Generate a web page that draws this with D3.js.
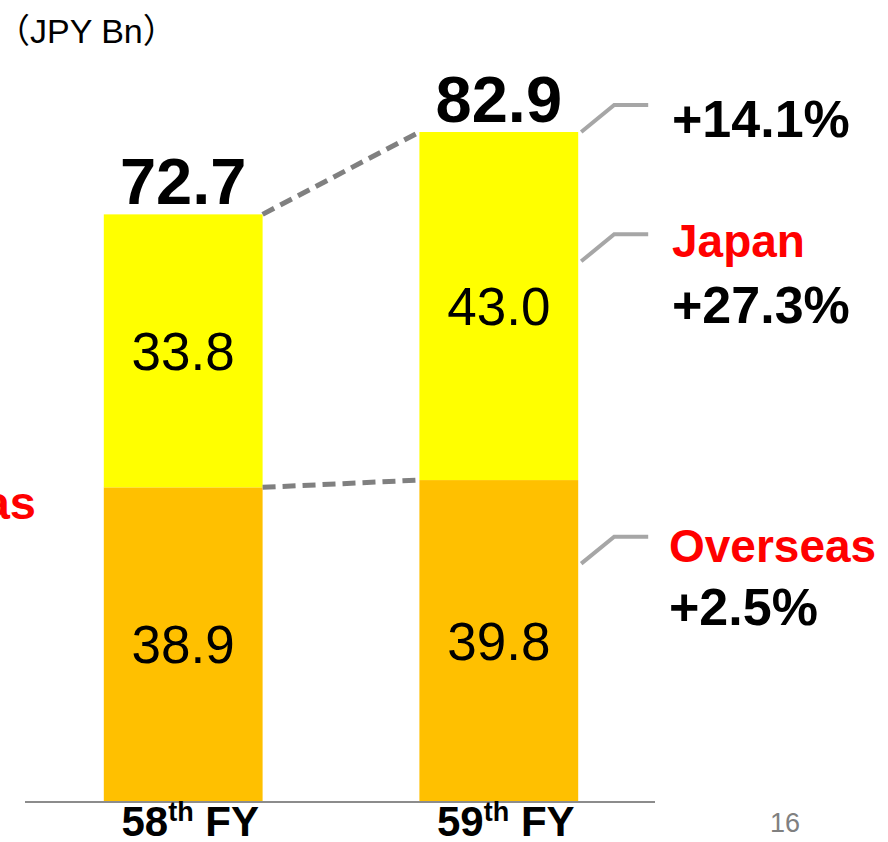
<!DOCTYPE html>
<html>
<head>
<meta charset="utf-8">
<script src="https://cdn.jsdelivr.net/npm/d3@7"></script>
<style>
  html, body { margin: 0; padding: 0; background: #fff; }
  svg { display: block; font-family: "Liberation Sans", Arial, "Noto Sans CJK JP", sans-serif; }
</style>
</head>
<body>
<svg id="chart" width="888" height="842"></svg>
<script>
// ---- data ----
const categories = ["58", "59"];
const overseas = [38.9, 39.8];
const japan = [33.8, 43.0];
const totals = [72.7, 82.9];
const growthLabels = ["+14.1%", "+27.3%", "+2.5%"];
const segmentNames = ["Japan", "Overseas"];
const unitLabel = "（JPY Bn）";
const pageNumber = "16";

const svg = d3.select("#chart");

// bars at 104-262 and 420-578
const x = d3.scaleBand().domain(categories)
  .range([104 - 0.5 * 316, 578 + 0.5 * 316]).paddingInner(157 / 316).paddingOuter(0.5);
const y = d3.scaleLinear().domain([0, 82.9]).range([801.5, 132]);
const bw = x.bandwidth();

const g = svg.append("g");
g.selectAll("rect.ov").data(categories).join("rect")
  .attr("class", "ov")
  .attr("x", d => x(d)).attr("width", bw)
  .attr("y", (d, i) => y(overseas[i])).attr("height", (d, i) => y(0) - y(overseas[i]))
  .attr("fill", "#FFC000");
g.selectAll("rect.jp").data(categories).join("rect")
  .attr("class", "jp")
  .attr("x", d => x(d)).attr("width", bw)
  .attr("y", (d, i) => y(totals[i])).attr("height", (d, i) => y(overseas[i]) - y(totals[i]))
  .attr("fill", "#FFFF00");

// segment value labels
g.selectAll("text.ovl").data(categories).join("text")
  .attr("x", d => x(d) + bw / 2)
  .attr("y", (d, i) => (y(0) + y(overseas[i])) / 2 + 19)
  .attr("text-anchor", "middle").attr("font-size", 53).attr("fill", "#000")
  .text((d, i) => overseas[i].toFixed(1));
g.selectAll("text.jpl").data(categories).join("text")
  .attr("x", d => x(d) + bw / 2)
  .attr("y", (d, i) => (y(overseas[i]) + y(totals[i])) / 2 + 19)
  .attr("text-anchor", "middle").attr("font-size", 53).attr("fill", "#000")
  .text((d, i) => japan[i].toFixed(1));

// totals
g.selectAll("text.tot").data(categories).join("text")
  .attr("x", d => x(d) + bw / 2)
  .attr("y", (d, i) => y(totals[i]) - 10)
  .attr("text-anchor", "middle").attr("font-size", 65).attr("font-weight", "bold").attr("fill", "#000")
  .text((d, i) => totals[i].toFixed(1));

// dashed connectors
const conn = [[totals[0], totals[1]], [overseas[0], overseas[1]]];
g.selectAll("line.conn").data(conn).join("line")
  .attr("x1", x(categories[0]) + bw).attr("x2", x(categories[1]))
  .attr("y1", d => y(d[0])).attr("y2", d => y(d[1]))
  .attr("stroke", "#808080").attr("stroke-width", 5).attr("stroke-dasharray", "13,7");

// axis baseline
svg.append("line")
  .attr("x1", 25).attr("x2", 655).attr("y1", y(0) + 0.5).attr("y2", y(0) + 0.5)
  .attr("stroke", "#8c8c8c").attr("stroke-width", 2);

// x labels
const xl = svg.selectAll("text.xl").data(categories).join("text")
  .attr("x", d => x(d) + bw / 2 + 7).attr("y", 836)
  .attr("text-anchor", "middle").attr("font-size", 42).attr("font-weight", "bold").attr("fill", "#000");
xl.append("tspan").text(d => d);
xl.append("tspan").attr("font-size", 27).attr("dy", -15).text("th");
xl.append("tspan").attr("dy", 15).text(" FY");

// callouts on the right of second bar
const xr = x(categories[1]) + bw;
const calloutVals = [totals[1], overseas[1] + japan[1] * 0.63, overseas[1] * 0.74];
const calloutLine = d3.line();
svg.selectAll("path.callout").data(calloutVals).join("path")
  .attr("d", v => calloutLine([[xr + 3, y(v)], [xr + 36, y(v) - 27], [xr + 70, y(v) - 27]]))
  .attr("fill", "none").attr("stroke", "#A6A6A6").attr("stroke-width", 4);

// callout texts
svg.append("text").attr("x", 672).attr("y", 137).attr("font-size", 52).attr("font-weight", "bold").attr("fill", "#000").text(growthLabels[0]);
svg.append("text").attr("x", 672).attr("y", 257).attr("font-size", 46).attr("font-weight", "bold").attr("fill", "#FF0000").text(segmentNames[0]);
svg.append("text").attr("x", 672).attr("y", 323).attr("font-size", 52).attr("font-weight", "bold").attr("fill", "#000").text(growthLabels[1]);
svg.append("text").attr("x", 669).attr("y", 562).attr("font-size", 46).attr("font-weight", "bold").attr("fill", "#FF0000").text(segmentNames[1]);
svg.append("text").attr("x", 669).attr("y", 625).attr("font-size", 52).attr("font-weight", "bold").attr("fill", "#000").text(growthLabels[2]);

// cut-off label at left edge
svg.append("text").attr("x", 36).attr("y", 519).attr("text-anchor", "end").attr("font-size", 47).attr("font-weight", "bold").attr("fill", "#FF0000").text(segmentNames[1]);

// unit label
svg.append("text").attr("x", -4).attr("y", 43).attr("font-size", 34).attr("fill", "#000").text(unitLabel);

// page number
svg.append("text").attr("x", 785).attr("y", 832).attr("text-anchor", "middle").attr("font-size", 27).attr("fill", "#808080").text(pageNumber);
</script>
</body>
</html>
